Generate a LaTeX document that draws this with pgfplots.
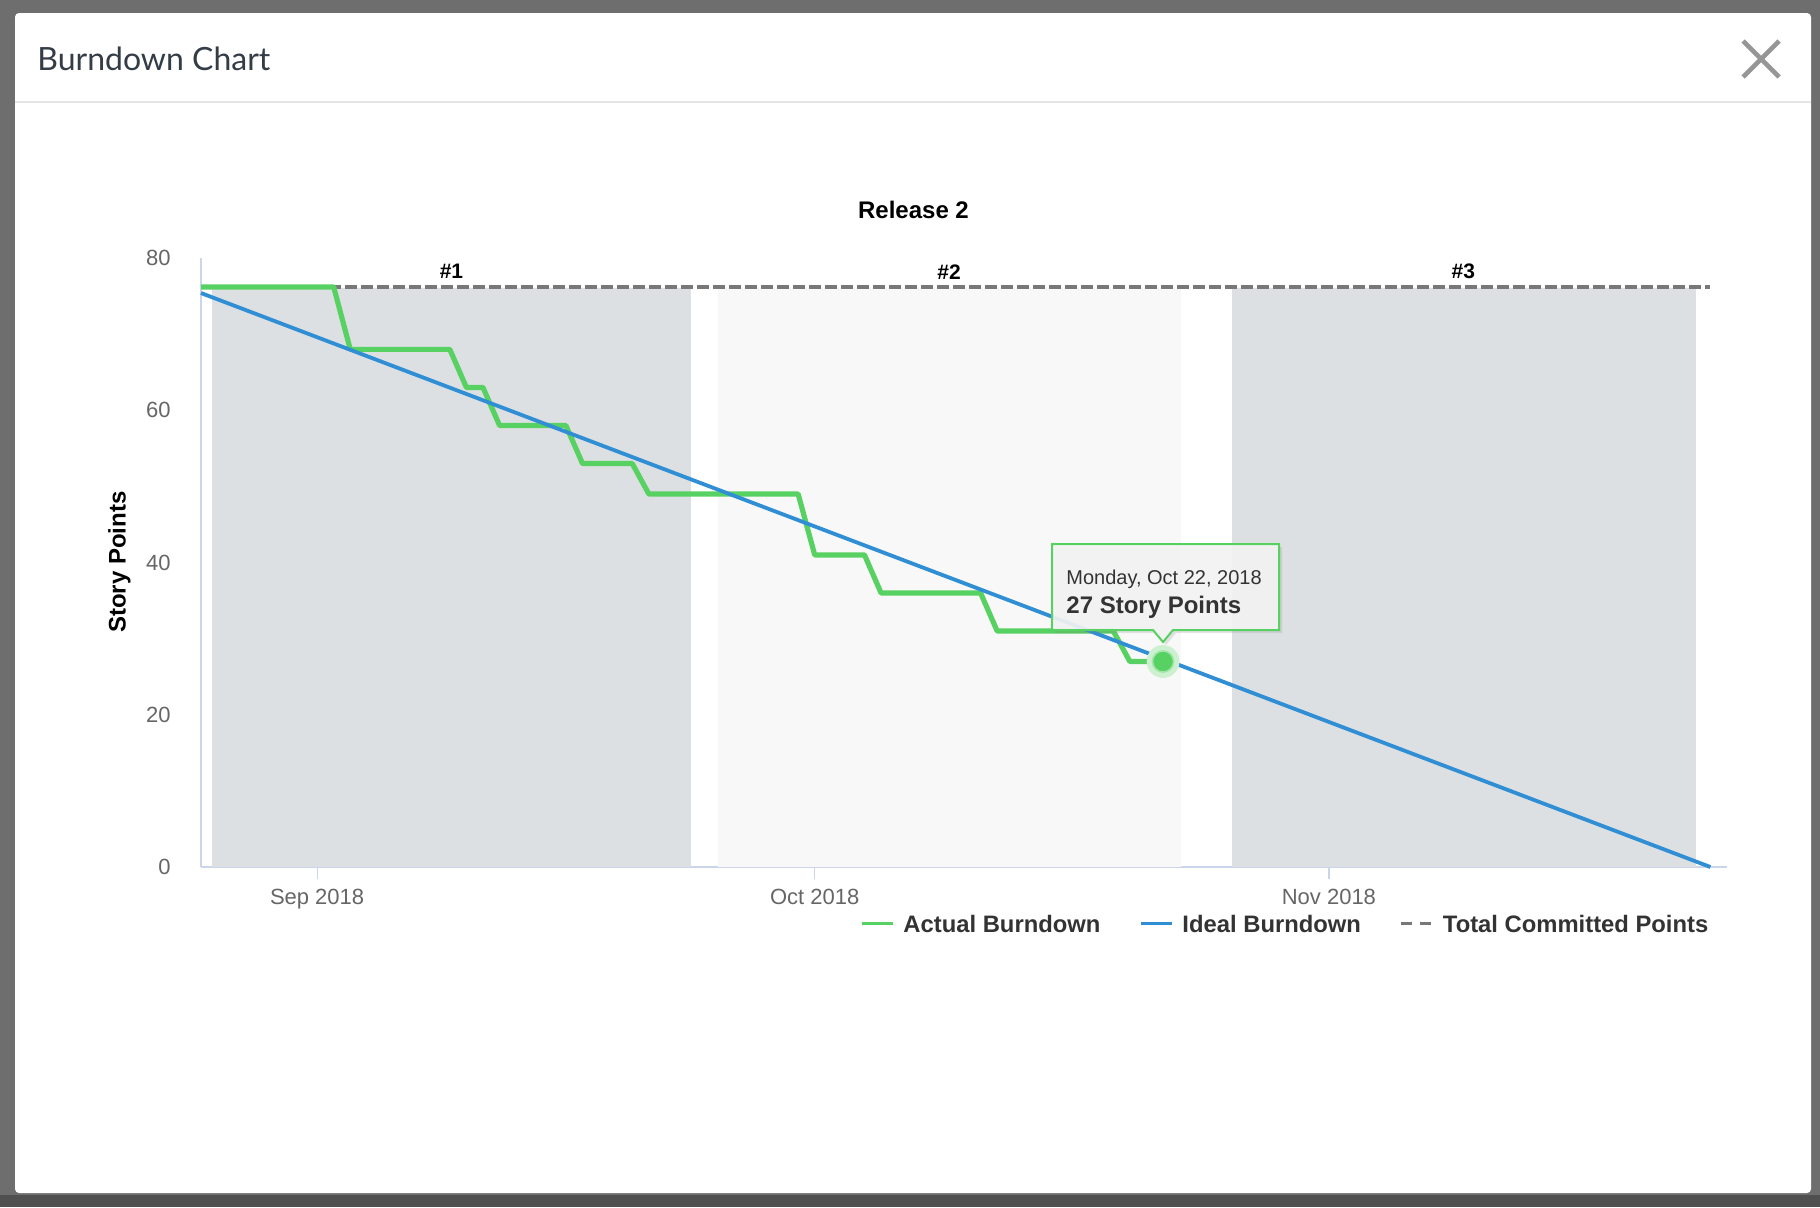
\documentclass[border=0pt]{standalone}
\usepackage{fontspec}
\setmainfont{Liberation Sans}
\newfontfamily\titlefont{Lato}
\usepackage{pgfplots}
\pgfplotsset{compat=1.18}
\usetikzlibrary{shadows}
\definecolor{actgreen}{RGB}{88,209,99}
\definecolor{idealblue}{RGB}{48,142,212}
\definecolor{bandgrey}{RGB}{221,224,227}
\definecolor{bandlight}{RGB}{248,248,248}
\definecolor{dashgrey}{RGB}{120,120,120}
\definecolor{axisline}{RGB}{204,214,235}
\definecolor{ticklab}{RGB}{102,102,102}
\definecolor{txtdark}{RGB}{51,51,51}
\definecolor{outergrey}{RGB}{110,110,110}
\definecolor{outerdark}{RGB}{80,80,80}
\definecolor{titlecol}{RGB}{52,60,70}
\definecolor{closegrey}{RGB}{150,150,150}
\definecolor{sepgrey}{RGB}{229,229,229}
\begin{document}
\begin{tikzpicture}
\begin{scope}[x=0.5pt,y=-0.5pt]
\path[use as bounding box] (0,0) rectangle (1820,1207);
\fill[outergrey] (0,0) rectangle (1820,1207);
\fill[outerdark] (0,1195) rectangle (1820,1207);
\fill[white, rounded corners=2pt] (15,13) rectangle (1811,1193);
\draw[sepgrey, line width=1pt] (15,102) -- (1811,102);
\node[anchor=base west, inner sep=0pt, text=titlecol, font=\titlefont\fontsize{16}{19}\selectfont] at (37,70) {Burndown Chart};
\draw[closegrey, line width=2.3pt] (1743,41) -- (1779,77) (1743,77) -- (1779,41);
\end{scope}

\begin{axis}[
  at={(100.5pt,-433.5pt)}, anchor=south west,
  scale only axis, width=763pt, height=304.5pt,
  xmin=-7, xmax=85, ymin=0, ymax=80,
  clip=false,
  axis x line*=bottom, axis y line*=left,
  axis line style={-, axisline, line width=0.6pt},
  xtick={0,30,61}, xticklabels={Sep 2018,Oct 2018,Nov 2018},
  ytick={0,20,40,60,80},
  tick align=outside, major tick length=6pt,
  xtick style={axisline, line width=0.6pt},
  ytick style={draw=none},
  /pgf/number format/assume math mode=true,
  tick label style={font=\fontsize{11}{13}\selectfont, text=ticklab},
  xticklabel style={inner sep=0pt, yshift=-5pt},
  yticklabel style={inner sep=0pt, xshift=-9pt},
  ylabel={Story Points},
  ylabel style={font=\bfseries\fontsize{12}{14}\selectfont, at={(axis description cs:-0.0534,0.5008)}, anchor=center, inner sep=0pt},
  title={Release 2},
  title style={font=\bfseries\fontsize{12}{14}\selectfont, at={(axis description cs:0.4669,1.0595)}, anchor=center, inner sep=0pt},
  legend columns=3,
  legend style={at={(axis description cs:0.4319,-0.0952)}, anchor=west, draw=none, fill=none, inner sep=0pt,
    font=\bfseries\fontsize{11.9}{14}\selectfont, text=txtdark, nodes={inner sep=0pt},
    /tikz/every odd column/.append style={column sep=4.5pt},
    /tikz/every even column/.append style={column sep=19.5pt}},
]
\addlegendimage{legend image code/.code={\draw[actgreen,line width=1.5pt] (0pt,0.5pt) -- (15.5pt,0.5pt);}}
\addlegendentry{Actual Burndown}
\addlegendimage{legend image code/.code={\draw[idealblue,line width=1.5pt] (0pt,0.5pt) -- (15.5pt,0.5pt);}}
\addlegendentry{Ideal Burndown}
\addlegendimage{legend image code/.code={\draw[dashgrey,line width=1.5pt,dash pattern=on 5.5pt off 4pt] (0pt,0.5pt) -- (15.5pt,0.5pt);}}
\addlegendentry{Total Committed Points}

% sprint bands
\addplot[draw=none, fill=bandgrey, forget plot] coordinates {(-6.32,0) (-6.32,76) (22.54,76) (22.54,0)} -- cycle;
\addplot[draw=none, fill=bandlight, forget plot] coordinates {(24.19,0) (24.19,76) (52.07,76) (52.07,0)} -- cycle;
\addplot[draw=none, fill=bandgrey, forget plot] coordinates {(55.16,0) (55.16,76) (83.11,76) (83.11,0)} -- cycle;

% total committed points
\addplot[dashgrey, line width=1.7pt, dash pattern=on 6pt off 2pt, forget plot] coordinates {(-7,76.2) (84,76.2)};
% actual burndown
\addplot[actgreen, line width=2.6pt, line join=round, forget plot] coordinates {
(-7,76.2) (1,76.2) (2,68) (8,68) (9,63) (10,63) (11,58) (15,58) (16,53) (19,53)
(20,49) (29,49) (30,41) (33,41) (34,36) (40,36) (41,31) (48,31) (49,27) (51,27)};
% ideal burndown
\addplot[idealblue, line width=1.9pt, forget plot] coordinates {(-7,75.4) (84,0)};

% highlighted point
\addplot[only marks, mark=*, mark size=8pt, color=actgreen!30!white, mark options={draw=actgreen!30!white, fill=actgreen!30!white}, forget plot] coordinates {(51,27)};
\addplot[only marks, mark=*, mark size=5.3pt, color=actgreen, mark options={draw=actgreen!55!white, line width=0.8pt, fill=actgreen}, forget plot] coordinates {(51,27)};

\node[font=\bfseries\fontsize{10.5}{12}\selectfont] at (axis cs:8.1,78.2) {\#1};
\node[font=\bfseries\fontsize{10.5}{12}\selectfont] at (axis cs:38.1,78.2) {\#2};
\node[font=\bfseries\fontsize{10.5}{12}\selectfont] at (axis cs:69.1,78.2) {\#3};
\end{axis}

\begin{scope}[x=0.5pt,y=-0.5pt]
\draw[actgreen, line width=1pt, fill=white!96!black, fill opacity=0.9,
  drop shadow={opacity=0.2, shadow xshift=1.5pt, shadow yshift=-1.5pt}]
  (1052,544) -- (1279,544) -- (1279,630) -- (1173,630) -- (1163,642) -- (1153,630) -- (1052,630) -- cycle;
\node[anchor=base west, inner sep=0pt, text=txtdark, font=\fontsize{10}{12}\selectfont] at (1066,584) {Monday, Oct 22, 2018};
\node[anchor=base west, inner sep=0pt, text=txtdark, font=\bfseries\fontsize{12}{14}\selectfont] at (1066,613) {27 Story Points};
\end{scope}
\end{tikzpicture}
\end{document}
